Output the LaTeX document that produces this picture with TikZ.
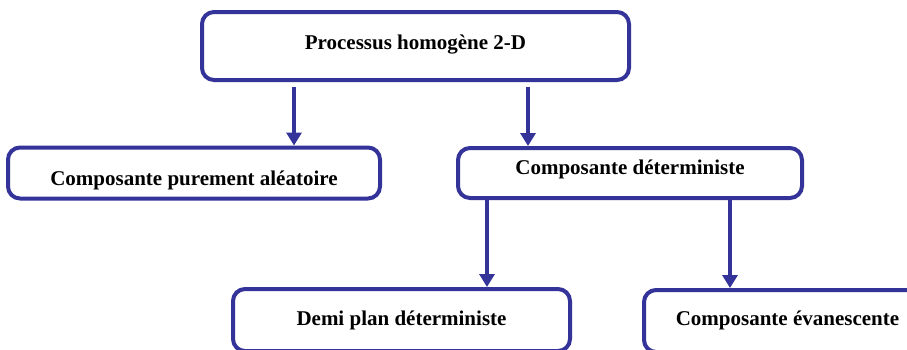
\documentclass[tikz,border=0pt]{standalone}
\definecolor{navy}{HTML}{333399}
\usepackage{fontspec}
\setmainfont{Liberation Serif}
\usepackage{tikz}
\usetikzlibrary{arrows.meta}
\usetikzlibrary{calc}

\begin{document}
\begin{tikzpicture}[x=1pt, y=-1pt]
	\tikzstyle{boite}=[draw = navy, line width=4pt, rounded corners=12pt, inner sep=0pt, font=\fontsize{21}{25}\selectfont\bfseries]
	\tikzstyle{fleche}=[navy, line width=4pt, -{Triangle[width=15pt,length=13pt]}]
	%page
	\clip (0,0) rectangle (907,349);
	%%% TOP BOX %%%
	\node[boite, minimum width=427pt, minimum height=68pt] (processus) at (415.5,46) {\raisebox{-3pt}[0pt][0pt]{Processus homog\`ene 2-D}};
	%%% MIDDLE BOXES %%%
	%purement aleatoire
	\node[boite, minimum width=372pt, minimum height=51pt] (aleatoire) at (194,173) {\raisebox{-12pt}[0pt][0pt]{Composante purement al\'eatoire}};
	%deterministe
	\node[boite, minimum width=344pt, minimum height=50pt] (deterministe) at (630,173) {\raisebox{-1pt}[0pt][0pt]{Composante d\'eterministe}};
	%%% BOTTOM BOXES %%%
	%demi plan
	\node[boite, minimum width=337pt, minimum height=62pt] (demiplan) at (401.5,320) {\raisebox{-5pt}[0pt][0pt]{Demi plan d\'eterministe}};
	%evanescente
	\node[boite, minimum width=287pt, minimum height=62pt] (evanescente) at (787.5,321) {\raisebox{-4pt}[0pt][0pt]{Composante \'evanescente}};
	%arrow columns
	\coordinate (c1) at (294,0);
	\coordinate (c2) at (528,0);
	\coordinate (c3) at (487,0);
	\coordinate (c4) at (730,0);
	%arrows from top box
	\draw[fleche, shorten <=5pt] (processus.south -| c1) -- (aleatoire.north -| c1);
	\draw[fleche, shorten <=5pt] (processus.south -| c2) -- (deterministe.north -| c2);
	%arrows from deterministe
	\draw[fleche] (deterministe.south -| c3) -- (demiplan.north -| c3);
	\draw[fleche] (deterministe.south -| c4) -- (evanescente.north -| c4);
\end{tikzpicture}
\end{document}
